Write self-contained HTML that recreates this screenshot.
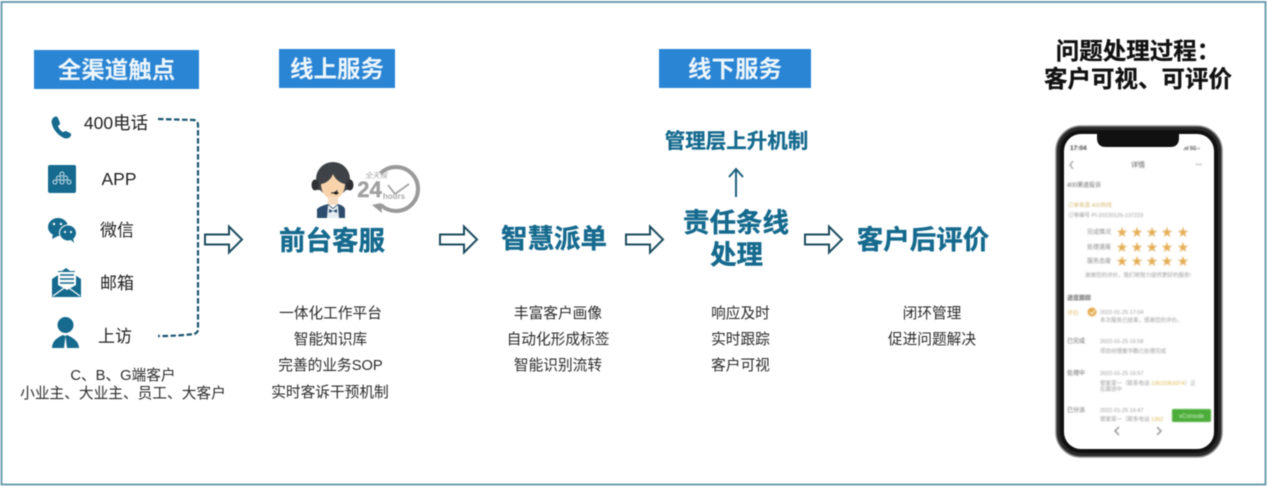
<!DOCTYPE html>
<html lang="zh"><head><meta charset="utf-8">
<style>
html,body{margin:0;padding:0;background:#fff;width:1268px;height:487px;overflow:hidden}
svg{display:block;filter:blur(0.45px)}
text{font-family:"Liberation Sans","Noto Sans CJK SC",sans-serif}
.h{font-size:23.5px;font-weight:700;fill:#eef6fc;text-anchor:middle}
.b{font-size:26.5px;font-weight:700;fill:#156a8e;stroke:#156a8e;stroke-width:.4;text-anchor:middle}
.l{font-size:14.7px;fill:#2b2b2b;text-anchor:middle}
.c{font-size:17.5px;fill:#222;text-anchor:middle}
.k{font-size:23.5px;font-weight:700;fill:#111;stroke:#111;stroke-width:.3;text-anchor:middle}
.ar{fill:#fff;stroke:#1c4d60;stroke-width:2}
.ic{fill:#156a8e}
.p{font-size:5.5px;fill:#9a9a9a}
.pd{font-size:6px;fill:#666}
</style></head><body>
<svg width="1268" height="487" viewBox="0 0 1268 487" xmlns="http://www.w3.org/2000/svg">
<rect x="1.500" y="2" width="1264" height="482.500" fill="#fff" stroke="#5f95a8" stroke-width="1.800"/>

<rect x="34" y="50" width="165" height="39" fill="#2a85d4"/>
<text class="h" x="116.500" y="78">全渠道触点</text>
<rect x="279" y="49" width="116" height="39" fill="#2a85d4"/>
<text class="h" x="337" y="77">线上服务</text>
<rect x="659" y="49" width="152" height="39" fill="#2a85d4"/>
<text class="h" x="735" y="77">线下服务</text>

<text class="k" x="1138" y="59">问题处理过程：</text>
<text class="k" x="1138" y="87">客户可视、可评价</text>

<!-- left column -->
<path class="ic" d="M53 118c2-2 4-2 5 0l2 5c0 2-1 2-2 3 1 3 3 5 5 6 1 0 2-1 3-1l4 2c2 1 1 3 0 4-2 2-5 2-8 0-5-3-9-8-10-13-1-2 0-5 1-6z"/>
<text class="c" x="116" y="129">400电话</text>
<rect x="48" y="165" width="28" height="28" rx="2" class="ic"/>
<g fill="none" stroke="#cfe4ee" stroke-width="1"><circle cx="62" cy="174" r="2"/><circle cx="58.500" cy="178" r="2"/><circle cx="65.500" cy="178" r="2"/><circle cx="55" cy="182" r="2"/><circle cx="62" cy="182" r="2"/><circle cx="69" cy="182" r="2"/></g>
<text class="c" x="119" y="185">APP</text>
<ellipse class="ic" cx="58" cy="227" rx="10" ry="9"/>
<path class="ic" d="M53 234l-1 5 6-3z"/>
<ellipse cx="68" cy="233" rx="8.500" ry="8" fill="#156a8e" stroke="#fff" stroke-width="1"/>
<path class="ic" d="M71 240l3 3-1-5z"/>
<g fill="#fff"><circle cx="54" cy="224" r="1.200"/><circle cx="61" cy="224" r="1.200"/><circle cx="65" cy="232" r="1.100"/><circle cx="71" cy="232" r="1.100"/></g>
<text class="c" x="117" y="236" style="font-size:17px">微信</text>
<path class="ic" d="M52 279l6-4v-4h4l4-3 4 3h5v4l6 4v18H52z"/>
<path d="M58 272h18v13l-9 5-9-5z" fill="#fff"/>
<path d="M60 275h14M60 279h14M60 283h14" stroke="#156a8e" stroke-width="1.500"/>
<path d="M53 296l11-8M80 296l-11-8" stroke="#fff" stroke-width="1.200"/>
<text class="c" x="117" y="289" style="font-size:17px">邮箱</text>
<circle class="ic" cx="65.500" cy="325" r="8"/>
<path class="ic" d="M52 348c0-6 4-10 11-13l2 1 2-1c7 3 12 7 12 13z"/>
<path d="M65.500 336l-1.500 12h3z" fill="#fff"/>
<text class="c" x="115" y="342" style="font-size:17px">上访</text>

<path d="M158 119l36 1q4 1 4 5v204q0 4-4 5q-16 2-36 2" fill="none" stroke="#1a5570" stroke-width="2.200" stroke-dasharray="5.500 2.500"/>

<text class="l" x="123" y="380">C、B、G端客户</text>
<text class="l" x="123" y="398">小业主、大业主、员工、大客户</text>

<!-- arrows -->
<defs><path id="a" d="M0 8h24V0l13 13-13 13v-8H0z"/></defs>
<use href="#a" class="ar" x="205" y="226.500"/>
<use href="#a" class="ar" x="440" y="226.500"/>
<use href="#a" class="ar" x="626" y="226.500"/>
<use href="#a" class="ar" x="805" y="226.500"/>

<!-- agent -->
<circle cx="333" cy="179" r="17" fill="#3f4347"/>
<rect x="317" y="178" width="33" height="12" fill="#3f4347"/>
<ellipse cx="315" cy="185" rx="3.500" ry="5.500" fill="#2e3033"/><ellipse cx="350" cy="185" rx="3.500" ry="5.500" fill="#2e3033"/>
<path d="M321 184c6-1 10-5 12-10 2 5 7 9 12 10 0 8-5 15-12 15s-12-7-12-15z" fill="#f8d3ab"/>
<rect x="328" y="197" width="10" height="8" fill="#f6dcc0"/>
<path d="M317 218v-9c3-3 8-4 11-5l5 4 5-4c3 1 6 2 7 5v9z" fill="#2d4c6e"/>
<path d="M328 205l5 4 5-4 1 13h-12z" fill="#e6eef3"/>
<path d="M329 209l4 2 4-2v4l-4-2-4 2z" fill="#2d4c6e"/>
<path d="M337 190c0 2-2 3-6 3" stroke="#333" stroke-width="1" fill="none"/>
<ellipse cx="336" cy="193" rx="2.500" ry="1.500" fill="#222"/>
<!-- clock -->
<circle cx="396" cy="189" r="22" fill="none" stroke="#9a9a9a" stroke-width="4" stroke-dasharray="103 35" transform="rotate(225 396 189)"/>
<path d="M372 205l10 8-1-10z" fill="#9a9a9a"/>
<path d="M388 185l7 9 14-10" fill="none" stroke="#a5a5a5" stroke-width="1.800"/>
<text x="369.500" y="197" font-size="22" font-weight="700" fill="#a0a0a0" stroke="#a0a0a0" stroke-width=".4" text-anchor="middle">24</text>
<text x="394" y="199" font-size="8" font-weight="700" fill="#aaa" text-anchor="middle">hours</text>
<text x="376" y="178" font-size="7.500" font-style="italic" fill="#aaa" text-anchor="middle">全天候</text>

<!-- main labels -->
<text class="b" x="332" y="250">前台客服</text>
<text class="b" x="554" y="248">智慧派单</text>
<text class="b" x="736" y="232">责任条线</text>
<text class="b" x="736.500" y="264">处理</text>
<text class="b" x="923" y="249">客户后评价</text>
<text x="736.500" y="148" font-size="20.500" font-weight="700" fill="#156a8e" stroke="#156a8e" stroke-width=".3" text-anchor="middle">管理层上升机制</text>
<path d="M736 197v-28M729 177l7-8 7 8" fill="none" stroke="#1c5f7c" stroke-width="2"/>

<!-- lists -->
<text class="l" x="330.500" y="318">一体化工作平台</text>
<text class="l" x="330.500" y="344">智能知识库</text>
<text class="l" x="330.500" y="370">完善的业务SOP</text>
<text class="l" x="330" y="397">实时客诉干预机制</text>
<text class="l" x="558" y="318">丰富客户画像</text>
<text class="l" x="558" y="344">自动化形成标签</text>
<text class="l" x="558" y="370">智能识别流转</text>
<text class="l" x="740.500" y="318">响应及时</text>
<text class="l" x="740.500" y="344">实时跟踪</text>
<text class="l" x="740.500" y="370">客户可视</text>
<text class="l" x="932" y="318">闭环管理</text>
<text class="l" x="932" y="344">促进问题解决</text>

<!-- phone -->
<rect x="1056" y="126" width="166" height="331" rx="25" fill="#2a2a2a" stroke="#8d8d8d" stroke-width="1.500"/>
<rect x="1060" y="130" width="158" height="323" rx="21" fill="#111"/>
<rect x="1064" y="134" width="150" height="315" rx="17" fill="#fff"/>
<path d="M1097 134h82v4q0 9-9 9h-64q-9 0-9-9z" fill="#111"/>
<g style="filter:blur(0.5px)">
<text x="1070" y="150" font-size="6.500" font-weight="700" fill="#333">17:04</text>
<text x="1183" y="150" font-size="5" font-weight="700" fill="#444">.ııl 5G ▪</text>
<path d="M1073 161l-3 4 3 4" fill="none" stroke="#777" stroke-width="1"/>
<text x="1138" y="167" font-size="7" fill="#555" text-anchor="middle">详情</text>
<text x="1199" y="167" font-size="7" font-weight="700" fill="#666" text-anchor="middle">···</text>
<text class="pd" x="1067" y="187">400渠道投诉</text>
<text x="1068" y="207" font-size="5.500" fill="#d5b86f">订单来源 400热线</text>
<text class="p" x="1068" y="217">订单编号 PI-20220125-137223</text>
<g font-size="6" fill="#888">
<text x="1087" y="234">完成情况</text><text x="1087" y="249">处理速度</text><text x="1087" y="263">服务态度</text>
</g>
<g font-size="11.500" fill="#e5ae55" text-anchor="middle">
<text x="1122" y="236">★</text><text x="1137" y="236">★</text><text x="1152" y="236">★</text><text x="1167" y="236">★</text><text x="1183" y="236">★</text>
<text x="1122" y="251">★</text><text x="1137" y="251">★</text><text x="1152" y="251">★</text><text x="1167" y="251">★</text><text x="1183" y="251">★</text>
<text x="1122" y="265">★</text><text x="1137" y="265">★</text><text x="1152" y="265">★</text><text x="1167" y="265">★</text><text x="1183" y="265">★</text>
</g>
<text class="p" x="1085" y="277">谢谢您的评价，我们将努力提供更好的服务!</text>
<text class="pd" x="1067" y="300" font-weight="700">进度跟踪</text>
<text x="1067" y="315" font-size="6" fill="#e0b868">评价</text>
<circle cx="1092" cy="312" r="4.500" fill="#e5a94e"/>
<path d="M1090 312l2 2 3-4" fill="none" stroke="#fff"/>
<text class="p" x="1100" y="314">2022-01-25 17:04</text>
<text class="p" x="1100" y="322">本次服务已结束，感谢您的评价。</text>
<text class="pd" x="1067" y="343">已完成</text>
<text class="p" x="1100" y="343">2022-01-25 16:58</text>
<text class="p" x="1100" y="353">项目经理童华鹏已处理完成</text>
<text class="pd" x="1067" y="375">处理中</text>
<text class="p" x="1100" y="375">2022-01-25 16:57</text>
<text class="p" x="1100" y="385">管家梁一（联系电话 <tspan fill="#dfb64f">13523353374</tspan>）正</text>
<text class="p" x="1100" y="391">在跟进中</text>
<text class="pd" x="1067" y="412">已分派</text>
<text class="p" x="1100" y="412">2022-01-25 16:47</text>
<text class="p" x="1100" y="421">管家梁一（联系电话 <tspan fill="#dfb64f">1352</tspan></text>
<rect x="1172" y="409" width="39" height="13" rx="1.500" fill="#4cad3a"/>
<text x="1191.500" y="418" font-size="6" fill="#d6f0d0" text-anchor="middle">vConsole</text>
<path d="M1119 427l-4 4 4 4M1157 427l4 4-4 4" fill="none" stroke="#777" stroke-width="1.200"/>
</g>
</svg>
</body></html>
